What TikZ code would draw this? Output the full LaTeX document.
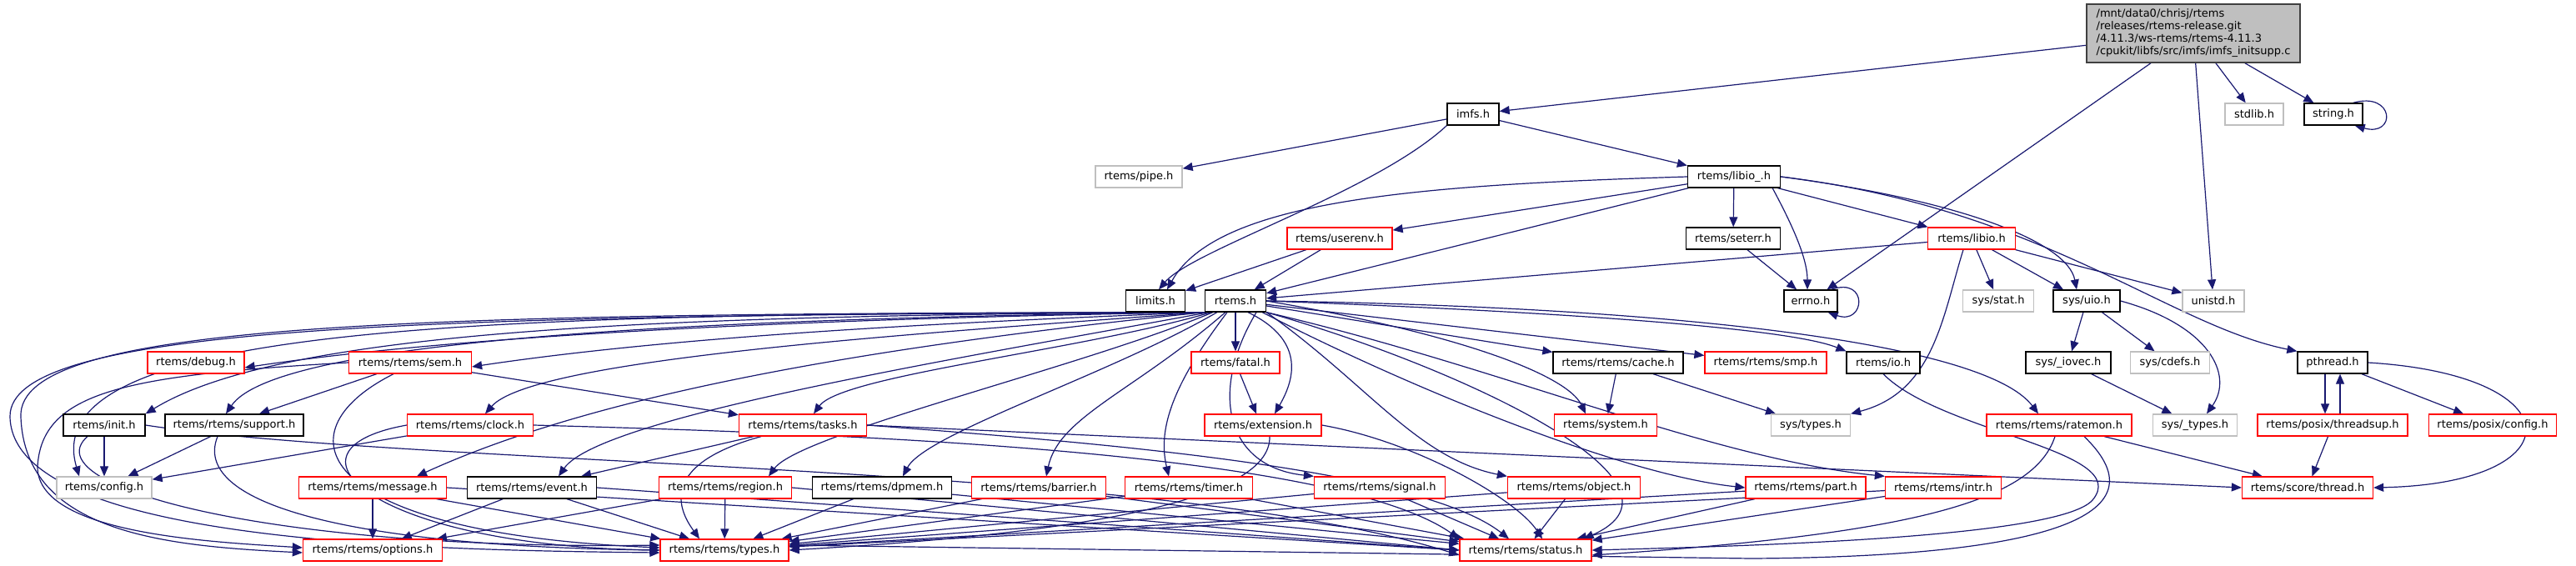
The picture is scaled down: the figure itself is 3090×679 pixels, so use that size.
\documentclass[tikz,border=0pt]{standalone}
\usepackage{fontspec}
\setmainfont{DejaVu Sans}
\usetikzlibrary{arrows.meta}
\pgfdeclarelayer{edges}
\pgfsetlayers{edges,main}
\definecolor{edgec}{RGB}{25,25,112}
\definecolor{grayb}{RGB}{191,191,191}
\definecolor{redb}{RGB}{255,0,0}
\begin{document}
\begin{tikzpicture}[x=1pt,y=-1pt,
  box/.style={draw, fill=white, line width=1.3pt, minimum height=26pt, inner sep=0pt, font=\fontsize{13}{15}\selectfont},
  blk/.style={box, draw=black},
  rd/.style={box, draw=redb},
  gr/.style={box, draw=grayb},
  edge/.style={draw=edgec, line width=1.2pt, -{Triangle[length=12pt,width=10pt]}}
]
\useasboundingbox (0,0) rectangle (3090,679);
% nodes
\node[box, fill=grayb, draw=black!75, minimum width=256, minimum height=70, align=left] (root) at (2631,40)
 {/mnt/data0/chrisj/rtems\\/releases/rtems-release.git\\/4.11.3/ws-rtems/rtems-4.11.3\\/cpukit/libfs/src/imfs/imfs\_initsupp.c};
\node[blk, minimum width=62] (imfs) at (1767,137) {imfs.h};
\node[gr, minimum width=104] (pipe) at (1366,212) {rtems/pipe.h};
\node[gr, minimum width=70] (stdlib) at (2704,137) {stdlib.h};
\node[blk, minimum width=70] (string) at (2799,137) {string.h};
\node[blk, minimum width=111] (libio_) at (2080,212) {rtems/libio\_.h};
\node[rd, minimum width=126] (userenv) at (1607,286) {rtems/userenv.h};
\node[blk, minimum width=113] (seterr) at (2079,286) {rtems/seterr.h};
\node[rd, minimum width=105] (libio) at (2365,286) {rtems/libio.h};
\node[blk, minimum width=71] (limits) at (1386,361) {limits.h};
\node[blk, minimum width=73] (rtems) at (1482,361) {rtems.h};
\node[blk, minimum width=64] (errno) at (2172,361) {errno.h};
\node[gr, minimum width=85] (sysstat) at (2397,361) {sys/stat.h};
\node[blk, minimum width=80] (sysuio) at (2503,361) {sys/uio.h};
\node[gr, minimum width=74] (unistd) at (2655,361) {unistd.h};
\node[rd, minimum width=116] (debug) at (235,435) {rtems/debug.h};
\node[rd, minimum width=147] (sem) at (492,435) {rtems/rtems/sem.h};
\node[rd, minimum width=106] (fatal) at (1482,435) {rtems/fatal.h};
\node[blk, minimum width=156] (cache) at (1941,435) {rtems/rtems/cache.h};
\node[rd, minimum width=146] (smp) at (2118,435) {rtems/rtems/smp.h};
\node[blk, minimum width=88] (io) at (2259,435) {rtems/io.h};
\node[blk, minimum width=102] (iovec) at (2481,435) {sys/\_iovec.h};
\node[gr, minimum width=95] (cdefs) at (2603,435) {sys/cdefs.h};
\node[blk, minimum width=84] (pthread) at (2798,435) {pthread.h};
\node[blk, minimum width=98] (init) at (125,510) {rtems/init.h};
\node[blk, minimum width=166] (support) at (281,510) {rtems/rtems/support.h};
\node[rd, minimum width=151] (clock) at (564,510) {rtems/rtems/clock.h};
\node[rd, minimum width=153] (tasks) at (963,510) {rtems/rtems/tasks.h};
\node[rd, minimum width=140] (extension) at (1515,510) {rtems/extension.h};
\node[rd, minimum width=123] (system) at (1926,510) {rtems/system.h};
\node[gr, minimum width=95] (systypes) at (2172,510) {sys/types.h};
\node[rd, minimum width=174] (ratemon) at (2470,510) {rtems/rtems/ratemon.h};
\node[gr, minimum width=101] (systypes_) at (2633,510) {sys/\_types.h};
\node[rd, minimum width=180] (threadsup) at (2798,510) {rtems/posix/threadsup.h};
\node[rd, minimum width=153] (posixconfig) at (2990,510) {rtems/posix/config.h};
\node[gr, minimum width=114] (config) at (125,585) {rtems/config.h};
\node[rd, minimum width=177] (message) at (447,585) {rtems/rtems/message.h};
\node[blk, minimum width=155] (event) at (638,585) {rtems/rtems/event.h};
\node[rd, minimum width=159] (region) at (870,585) {rtems/rtems/region.h};
\node[blk, minimum width=167] (dpmem) at (1058,585) {rtems/rtems/dpmem.h};
\node[rd, minimum width=161] (barrier) at (1246,585) {rtems/rtems/barrier.h};
\node[rd, minimum width=153] (timer) at (1426,585) {rtems/rtems/timer.h};
\node[rd, minimum width=157] (signal) at (1655,585) {rtems/rtems/signal.h};
\node[rd, minimum width=159] (object) at (1888,585) {rtems/rtems/object.h};
\node[rd, minimum width=144] (part) at (2166,585) {rtems/rtems/part.h};
\node[rd, minimum width=139] (intr) at (2331,585) {rtems/rtems/intr.h};
\node[rd, minimum width=157] (thread) at (2768,585) {rtems/score/thread.h};
\node[rd, minimum width=167] (options) at (447,660) {rtems/rtems/options.h};
\node[rd, minimum width=154] (types) at (869,660) {rtems/rtems/types.h};
\node[rd, minimum width=158] (status) at (1830,660) {rtems/rtems/status.h};
% edges
\begin{pgfonlayer}{edges}
\draw[edge] (root) -- (imfs);
\draw[edge] (root) -- (errno);
\draw[edge] (root) -- (unistd);
\draw[edge] (root) -- (stdlib);
\draw[edge] (root) -- (string);
\draw[edge] ([xshift=-12]string.north east) .. controls +(50,-14) and +(50,14) .. ([xshift=-10]string.south east);
\draw[edge] (imfs) -- (pipe);
\draw[edge] (imfs) -- (libio_);
\draw[edge] (imfs.south west) .. controls (1650,230) and (1430,300) .. ([xshift=4]limits.north);
\draw[edge] (libio_.west) .. controls (1700,222) and (1460,240) .. ([xshift=14]limits.north);
\draw[edge] (libio_) -- (userenv);
\draw[edge] (libio_) -- (rtems);
\draw[edge] (libio_) -- (seterr);
\draw[edge] ([xshift=-10]libio_.south east) .. controls (2150,270) and (2168,310) .. ([xshift=-4]errno.north);
\draw[edge] (libio_) -- (libio);
\draw[edge] (libio_.east) .. controls (2350,240) and (2480,290) .. ([xshift=-12]sysuio.north);
\draw[edge] (libio_.east) .. controls (2450,250) and (2600,390) .. (pthread.north west);
\draw[edge] (userenv) -- (limits);
\draw[edge] (userenv) -- (rtems);
\draw[edge] (seterr) -- (errno);
\draw[edge] ([xshift=-8]errno.north east) .. controls +(45,-16) and +(45,16) .. ([xshift=-12]errno.south east);
\draw[edge] (libio) -- (rtems);
\draw[edge] (libio) -- (sysstat);
\draw[edge] (libio) -- ([xshift=-28]sysuio.north);
\draw[edge] (libio) -- (unistd);
\draw[edge] ([xshift=-10]libio.south) .. controls (2330,380) and (2320,470) .. (systypes.north east);
\draw[edge] (sysuio) -- (iovec);
\draw[edge] (sysuio) -- (cdefs);
\draw[edge] (sysuio.east) .. controls (2650,390) and (2680,450) .. ([xshift=14]systypes_.north);
\draw[edge] (iovec) -- (systypes_);
\draw[edge] ([xshift=-9]pthread.south) -- ([xshift=-9]threadsup.north);
\draw[edge] ([xshift=9]threadsup.north) -- ([xshift=9]pthread.south);
\draw[edge] (pthread) -- (posixconfig);
\draw[edge] (pthread.east) .. controls (3090,450) and (3090,580) .. (thread.east);
\draw[edge] (threadsup) -- (thread);
\draw[edge] (ratemon) -- (thread);
\draw[edge] (cache) -- (system);
\draw[edge] (cache) -- (systypes);
\draw[edge] (io.south) .. controls (2330,520) and (2560,540) .. (2510,600) .. controls (2470,645) and (2100,655) .. (status.east);
\draw[edge] ([xshift=-5]ratemon.south) .. controls (2440,600) and (2300,640) .. ([yshift=-6]status.east);
\draw[edge] ([xshift=30]ratemon.south) .. controls (2600,620) and (2450,668) .. (2100,670) -- ([yshift=6]types.east);
% rtems.h fan out
\draw[edge] (rtems.south west) .. controls (1100,380) and (600,395) .. ([yshift=-6]debug.east);
\draw[edge] (rtems.south west) .. controls (1100,388) and (800,405) .. ([yshift=-5]sem.east);
\draw[edge] (rtems.south west) .. controls (800,378) and (340,395) .. (init.north east);
\draw[edge] (rtems.south west) .. controls (800,382) and (330,410) .. ([xshift=-10]support.north);
\draw[edge] (rtems.south west) .. controls (600,376) and (40,385) .. ([xshift=-30]config.north);
\draw[edge] (rtems.south west) .. controls (500,376) and (20,385) .. (25,500) .. controls (30,640) and (200,655) .. ([yshift=-3]options.west);
\draw[edge] (rtems.south west) .. controls (500,378) and (10,390) .. (12,500) .. controls (15,650) and (500,660) .. ([yshift=-3]types.west);
\draw[edge] (rtems.south west) .. controls (1100,400) and (640,430) .. ([xshift=18]clock.north);
\draw[edge] ([xshift=8]rtems.south west) .. controls (1300,420) and (1010,450) .. ([xshift=13]tasks.north);
\draw[edge] (rtems.south west) .. controls (1000,420) and (700,480) .. ([xshift=53]message.north);
\draw[edge] ([xshift=5]rtems.south west) .. controls (1150,430) and (720,500) .. ([xshift=32]event.north);
\draw[edge] ([xshift=10]rtems.south west) .. controls (1300,440) and (960,520) .. ([xshift=52]region.north);
\draw[edge] ([xshift=15]rtems.south west) .. controls (1330,450) and (1110,520) .. ([xshift=25]dpmem.north);
\draw[edge] ([xshift=25]rtems.south west) .. controls (1360,470) and (1270,500) .. ([xshift=9]barrier.north);
\draw[edge] ([xshift=-10]rtems.south) .. controls (1400,470) and (1390,520) .. ([xshift=-24]timer.north);
\draw[edge] (rtems) -- (fatal);
\draw[edge] ([xshift=15]rtems.south) .. controls (1570,410) and (1550,460) .. ([xshift=14]extension.north);
\draw[edge] (fatal) -- ([xshift=-8]extension.north);
\draw[edge] ([xshift=25]rtems.south) .. controls (1450,470) and (1470,560) .. (signal.north west);
\draw[edge] (rtems.south east) .. controls (1640,460) and (1700,550) .. (object.north west);
\draw[edge] (rtems.east) .. controls (1750,400) and (1880,450) .. ([xshift=-24]system.north);
\draw[edge] (rtems) -- (cache);
\draw[edge] (rtems) -- (smp);
\draw[edge] (rtems.east) .. controls (1900,375) and (2150,395) .. (io.north west);
\draw[edge] (rtems.east) .. controls (2000,368) and (2380,410) .. ([xshift=-25]ratemon.north);
\draw[edge] ([xshift=-5]rtems.south east) .. controls (1700,470) and (1950,570) .. (part.west);
\draw[edge] (rtems.south east) .. controls (1800,440) and (2050,550) .. (intr.north west);
\draw[edge] (rtems.south east) .. controls (1750,440) and (2050,580) .. ([xshift=-10]status.north east);
% second level
\draw[edge] (sem) -- ([xshift=30]support.north);
\draw[edge] (sem) -- (tasks);
\draw[edge] (sem.west) .. controls (150,450) and (50,470) .. (45,560) .. controls (45,640) and (250,650) .. ([yshift=3]options.west);
\draw[edge] ([xshift=-20]sem.south) .. controls (330,520) and (380,640) .. ([yshift=3]types.west);
\draw[edge] (init) -- (config);
\draw[edge] ([xshift=-20]init.south) .. controls (40,580) and (300,660) .. ([yshift=6]types.west);
\draw[edge] (init.east) .. controls (500,560) and (1400,555) .. ([yshift=-6]status.west);
\draw[edge] (support) -- (config);
\draw[edge] ([xshift=-20]support.south) .. controls (230,600) and (400,655) .. (types.west);
\draw[edge] (clock) -- (config);
\draw[edge] (clock.west) .. controls (320,540) and (450,655) .. (types.west);
\draw[edge] (clock.east) .. controls (1000,520) and (1600,540) .. (status.north west);
\draw[edge] (tasks) -- (event);
\draw[edge] ([xshift=-50]tasks.south) .. controls (780,560) and (820,620) .. ([xshift=-30]types.north);
\draw[edge] (tasks.east) .. controls (1300,530) and (1700,560) .. ([xshift=-20]status.north);
\draw[edge] (tasks.east) -- (thread.west);
\draw[edge] (message) -- (options);
\draw[edge] (message) -- (types);
\draw[edge] (message.east) -- (status.west);
\draw[edge] (event) -- (options);
\draw[edge] (event) -- (types);
\draw[edge] (event.east) -- (status.west);
\draw[edge] (region) -- (options);
\draw[edge] (region) -- (types);
\draw[edge] (region.east) -- (status.west);
\draw[edge] (dpmem) -- (types);
\draw[edge] (dpmem) -- (status);
\draw[edge] (barrier) -- (types);
\draw[edge] (barrier) -- (status);
\draw[edge] (timer) -- (types);
\draw[edge] (timer) -- (status);
\draw[edge] (signal) -- (types);
\draw[edge] (signal) -- (status);
\draw[edge] (object) -- (types);
\draw[edge] (object) -- (status);
\draw[edge] (part) -- (types);
\draw[edge] (part) -- (status);
\draw[edge] (intr) -- (types);
\draw[edge] (intr) -- (status);
\draw[edge] ([xshift=8]extension.south) .. controls (1525,600) and (1300,640) .. (types.east);
\draw[edge] (extension.east) .. controls (1700,530) and (1820,600) .. ([xshift=20]status.north);
\end{pgfonlayer}
\end{tikzpicture}
\end{document}
